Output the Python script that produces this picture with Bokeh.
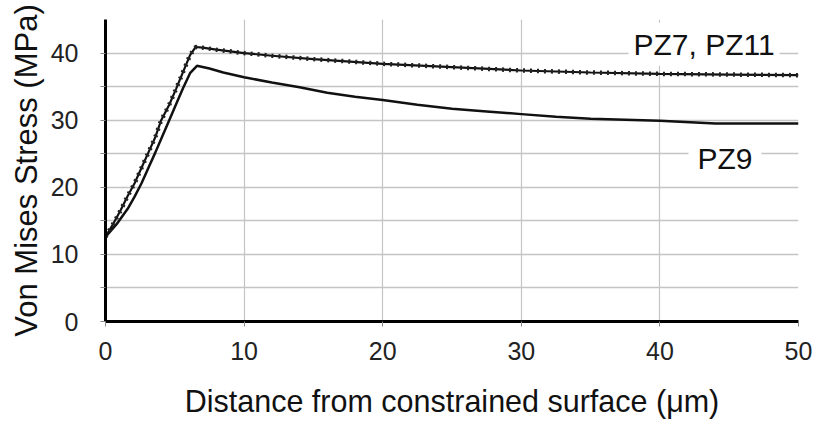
from bokeh.plotting import figure
from bokeh.models import Range1d, FixedTicker, Label
from bokeh.embed import file_html
from bokeh.resources import INLINE

# ---- data ----
x_pz7 = [0, 0.6, 1.1, 1.6, 2.1, 2.6, 3.1, 3.6, 4.0, 4.6, 5.1, 5.6, 6.1, 6.5,
         7, 8, 10, 12, 15, 20, 25, 30, 35, 40, 45, 50]
y_pz7 = [12.6, 14.7, 16.6, 18.7, 20.6, 22.9, 25.2, 27.5, 29.9, 32.3, 34.7, 37.2, 39.7, 40.9,
         40.8, 40.5, 40.0, 39.6, 39.1, 38.4, 37.9, 37.4, 37.1, 36.9, 36.8, 36.7]

x_pz9 = [0, 0.8, 1.6, 2.1, 2.6, 3.1, 3.6, 4.1, 4.6, 5.1, 5.6, 6.1, 6.6, 7.5, 8.5, 10, 12,
         14, 16, 18, 20, 22.5, 25, 27.5, 30, 32.5, 35, 40, 44, 50]
y_pz9 = [12.6, 14.5, 16.8, 18.6, 20.6, 22.9, 25.2, 27.6, 30.0, 32.4, 34.8, 37.0, 38.1, 37.7,
         37.1, 36.4, 35.6, 34.9, 34.1, 33.5, 33.0, 32.3, 31.7, 31.3, 30.9, 30.5, 30.2, 29.9,
         29.5, 29.5]

x_ticks = [0, 10, 20, 30, 40, 50]
y_ticks = [0, 10, 20, 30, 40]
y_minor = [5, 15, 25, 35]
x_grid = [10, 20, 30, 40]
y_grid = [5, 10, 15, 20, 25, 30, 35, 40]

x_title = "Distance from constrained surface (\u03bcm)"
y_title = "Von Mises Stress (MPa)"
label_top = "PZ7, PZ11"
label_bottom = "PZ9"

FONT = "Liberation Sans"

p = figure(width=815, height=422, x_range=Range1d(0, 50), y_range=Range1d(0, 45),
           output_backend="svg", toolbar_location=None,
           min_border_left=105, min_border_right=17, min_border_top=19, min_border_bottom=101)
p.outline_line_color = None
p.background_fill_color = "white"

# grid
p.xgrid.ticker = FixedTicker(ticks=x_grid)
p.ygrid.ticker = FixedTicker(ticks=y_grid)
p.xgrid.grid_line_color = "#c4c4c4"
p.ygrid.grid_line_color = "#c4c4c4"
p.xgrid.grid_line_width = 1.2
p.ygrid.grid_line_width = 1.6

# axes
p.xaxis.ticker = FixedTicker(ticks=x_ticks)
p.yaxis.ticker = FixedTicker(ticks=y_ticks, minor_ticks=y_minor)
for ax in (p.xaxis[0], p.yaxis[0]):
    ax.axis_line_color = "black"
    ax.axis_line_width = 3
    ax.major_tick_in = 0
    ax.major_tick_out = 5
    ax.minor_tick_in = 0
    ax.minor_tick_out = 5
    ax.major_tick_line_color = "#888888"
    ax.minor_tick_line_color = "#888888"
    ax.major_label_text_font = FONT
    ax.major_label_text_font_size = "25px"
    ax.major_label_text_color = "#222222"
    ax.axis_label_text_font = FONT
    ax.axis_label_text_font_style = "normal"
    ax.axis_label_text_color = "#111111"
p.xaxis.axis_label_text_font_size = "30.5px"
p.yaxis.axis_label_text_font_size = "31px"
p.xaxis.minor_tick_out = 0
p.xaxis.axis_label = x_title
p.yaxis.axis_label = y_title
p.xaxis.major_label_standoff = 15
p.yaxis.major_label_standoff = 22
p.xaxis.axis_label_standoff = 21
p.yaxis.axis_label_standoff = 4

# curves
p.line(x_pz9, y_pz9, line_color="#111111", line_width=2.5)
p.line(x_pz7, y_pz7, line_color="#111111", line_width=2.2)
p.line(x_pz7, y_pz7, line_color="#222222", line_width=4.5, line_dash="2 5")

# curve labels
p.add_layout(Label(x=37.73, y=41.3, text=label_top, text_font=FONT, text_font_size="30px",
                   text_color="#111111", text_baseline="alphabetic",
                   background_fill_color="white", padding=5))
p.add_layout(Label(x=42.06, y=24.3, text=label_bottom, text_font=FONT, text_font_size="30px",
                   text_color="#111111", text_baseline="alphabetic",
                   background_fill_color="white", padding=9))

open("out.html", "w").write(file_html(p, INLINE))
